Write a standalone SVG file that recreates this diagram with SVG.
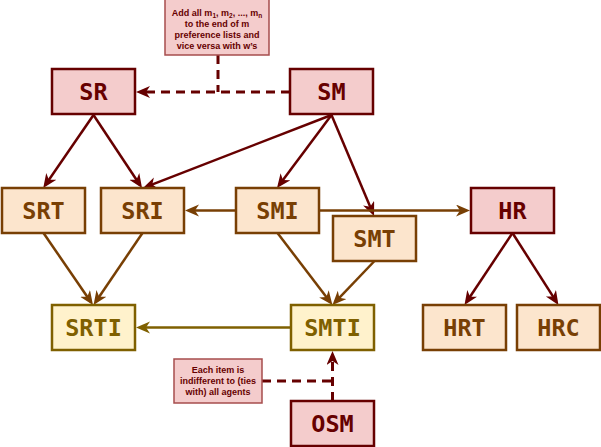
<svg xmlns="http://www.w3.org/2000/svg" width="601" height="447" viewBox="0 0 601 447">
<style>
.red rect{fill:#f4cccc;stroke:#660000;stroke-width:2.5}
.org rect{fill:#fce5cd;stroke:#783f04;stroke-width:2.5}
.yel rect{fill:#fff2cc;stroke:#7f6000;stroke-width:2.5}
.node text{font-family:"DejaVu Sans Mono",monospace;font-weight:bold;font-size:23.5px;text-anchor:middle}
.red text{fill:#660000}
.org text{fill:#783f04}
.yel text{fill:#7f6000}
.note rect{fill:#f4cccc;stroke:#a64d4d;stroke-width:1.5}
.note text{font-family:"Liberation Sans",Arial,sans-serif;font-weight:bold;font-size:9px;fill:#660000;text-anchor:middle}
.cr{stroke:#660000;stroke-width:2.5;fill:none}
.co{stroke:#783f04;stroke-width:2.5;fill:none}
.cy{stroke:#7f6000;stroke-width:2.5;fill:none}
.dash{stroke:#660000;stroke-width:3;fill:none;stroke-dasharray:9 6}
</style>
<defs>
<marker id="ar" markerUnits="userSpaceOnUse" markerWidth="16" markerHeight="14" refX="10" refY="6" orient="auto"><path d="M0,0 L14,6 L0,12 L4,6 z" fill="#660000"/></marker>
<marker id="ao" markerUnits="userSpaceOnUse" markerWidth="16" markerHeight="14" refX="10" refY="6" orient="auto"><path d="M0,0 L14,6 L0,12 L4,6 z" fill="#783f04"/></marker>
<marker id="ay" markerUnits="userSpaceOnUse" markerWidth="16" markerHeight="14" refX="10" refY="6" orient="auto"><path d="M0,0 L14,6 L0,12 L4,6 z" fill="#7f6000"/></marker>
</defs>
<g id="connectors">
<line class="dash" x1="290" y1="92" x2="140" y2="92" marker-end="url(#ar)"/>
<line class="dash" x1="218" y1="55" x2="218" y2="92"/>
<line class="cr" x1="93.5" y1="115" x2="45.5" y2="184.7" marker-end="url(#ar)"/>
<line class="cr" x1="93.5" y1="115" x2="139.8" y2="184.7" marker-end="url(#ar)"/>
<line class="cr" x1="331.5" y1="115" x2="146.7" y2="186.6" marker-end="url(#ar)"/>
<line class="cr" x1="331.5" y1="115" x2="279.4" y2="184.8" marker-end="url(#ar)"/>
<line class="cr" x1="331.5" y1="115" x2="372.5" y2="212.3" marker-end="url(#ar)"/>
<line class="co" x1="236" y1="210.5" x2="189" y2="210.5" marker-end="url(#ao)"/>
<line class="co" x1="319" y1="210.5" x2="466" y2="210.5" marker-end="url(#ao)"/>
<line class="co" x1="43.5" y1="233" x2="90.7" y2="301.7" marker-end="url(#ao)"/>
<line class="co" x1="142.5" y1="233" x2="95.8" y2="301.7" marker-end="url(#ao)"/>
<line class="co" x1="277.5" y1="233" x2="330" y2="301.8" marker-end="url(#ao)"/>
<line class="co" x1="374.5" y1="261" x2="335.2" y2="302.1" marker-end="url(#ao)"/>
<line class="cy" x1="291" y1="327.5" x2="140" y2="327.5" marker-end="url(#ay)"/>
<line class="cr" x1="512.5" y1="233" x2="466.7" y2="301.7" marker-end="url(#ar)"/>
<line class="cr" x1="512.5" y1="233" x2="556.3" y2="301.6" marker-end="url(#ar)"/>
<line class="dash" x1="332.5" y1="401" x2="332.5" y2="355" marker-end="url(#ar)"/>
<line class="dash" x1="262" y1="381" x2="332.5" y2="381"/>
</g>
<g id="note1" class="note">
<rect x="165" y="-2" width="104" height="57"/>
<text x="217" y="16">Add all m<tspan font-size="6.5" dy="2">1</tspan><tspan dy="-2">, m</tspan><tspan font-size="6.5" dy="2">2</tspan><tspan dy="-2">, ..., m</tspan><tspan font-size="6.5" dy="2">n</tspan></text>
<text x="217" y="27">to the end of m</text>
<text x="217" y="38">preference lists and</text>
<text x="217" y="49">vice versa with w’s</text>
</g>
<g id="note2" class="note">
<rect x="174" y="359" width="88" height="44"/>
<text x="218" y="373">Each item is</text>
<text x="218" y="384">indifferent to (ties</text>
<text x="218" y="395">with) all agents</text>
</g>
<g id="SR" class="node red"><rect x="52" y="69" width="83" height="45"/><text x="93.5" y="100">SR</text></g>
<g id="SM" class="node red"><rect x="290" y="69" width="83" height="45"/><text x="331.5" y="100">SM</text></g>
<g id="SRT" class="node org"><rect x="2" y="188" width="83" height="45"/><text x="43.5" y="219">SRT</text></g>
<g id="SRI" class="node org"><rect x="101" y="188" width="83" height="45"/><text x="142.5" y="219">SRI</text></g>
<g id="SMI" class="node org"><rect x="236" y="188" width="83" height="45"/><text x="277.5" y="219">SMI</text></g>
<g id="SMT" class="node org"><rect x="333" y="216" width="83" height="45"/><text x="374.5" y="247">SMT</text></g>
<g id="HR" class="node red"><rect x="471" y="188" width="83" height="45"/><text x="512.5" y="219">HR</text></g>
<g id="SRTI" class="node yel"><rect x="52" y="305" width="83" height="45"/><text x="93.5" y="336">SRTI</text></g>
<g id="SMTI" class="node yel"><rect x="291" y="305" width="83" height="45"/><text x="332.5" y="336">SMTI</text></g>
<g id="HRT" class="node org"><rect x="423" y="305" width="83" height="45"/><text x="464.5" y="336">HRT</text></g>
<g id="HRC" class="node org"><rect x="517" y="305" width="83" height="45"/><text x="558.5" y="336">HRC</text></g>
<g id="OSM" class="node red"><rect x="291" y="401" width="83" height="45"/><text x="332.5" y="432">OSM</text></g>
</svg>
